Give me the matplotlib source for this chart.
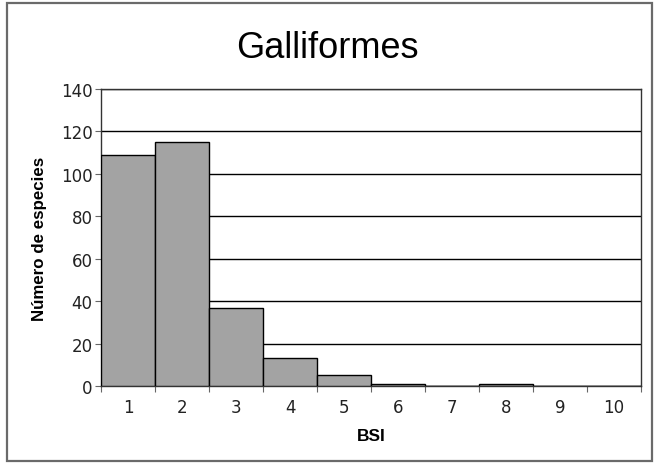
import matplotlib
matplotlib.use("Agg")
import matplotlib.pyplot as plt
from matplotlib.patches import Rectangle

categories = ["1", "2", "3", "4", "5", "6", "7", "8", "9", "10"]
counts = [109, 115, 37, 13, 5, 1, 0, 1, 0, 0]
yticks = [0, 20, 40, 60, 80, 100, 120, 140]

fig = plt.figure(figsize=(6.54, 4.64), dpi=100)
fig.patches.append(Rectangle((7/654, 2/464), 645/654, 458/464, transform=fig.transFigure,
                             fill=False, edgecolor="#6a6a6a", linewidth=1.6))
ax = fig.add_axes([101/654, 1-387/464, 540/654, 297/464])

x = list(range(len(categories)))
ax.bar(x, counts, width=1.0, color="#a3a3a3", edgecolor="black", linewidth=1.0, zorder=3)
ax.set_xlim(-0.5, len(categories) - 0.5)
ax.set_ylim(0, 140)
ax.set_yticks(yticks)
ax.set_yticklabels([str(v) for v in yticks], family="DejaVu Sans", fontsize=12, color="#222222")
ax.set_xticks(x)
ax.set_xticklabels(categories, family="DejaVu Sans", fontsize=12, color="#222222")
ax.tick_params(axis="x", length=0, pad=9)
ax.set_xticks([i - 0.5 for i in range(len(categories) + 1)], minor=True)
ax.tick_params(axis="x", which="minor", length=4, width=0.8, color="#666666")
ax.tick_params(axis="y", length=4, width=0.8, color="#666666", pad=2)
ax.grid(axis="y", color="black", linewidth=1.0, zorder=0)
ax.set_axisbelow(True)
for s in ax.spines.values():
    s.set_color("#333333")
    s.set_linewidth(1.0)

ax.set_xlabel("BSI", family="Liberation Sans", fontweight="bold", fontsize=12.5, labelpad=8)
ax.set_ylabel("Número de especies", family="Liberation Sans", fontweight="bold", fontsize=12.2, labelpad=10)
fig.text(0.5, 1-48/464, "Galliformes", family="Liberation Sans", fontsize=26,
         ha="center", va="center")

fig.savefig("out.png", dpi=100)
